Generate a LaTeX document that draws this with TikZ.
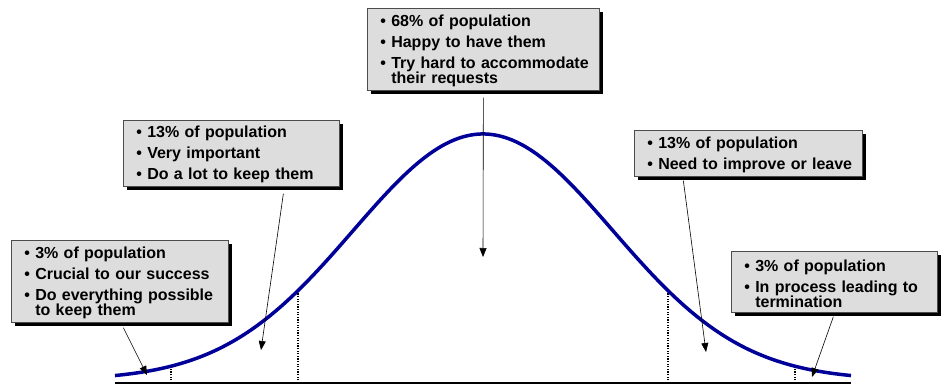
\documentclass[tikz,border=0pt]{standalone}
\usepackage{fontspec}
\setmainfont{Liberation Sans}
\usepackage{tikz}
\usetikzlibrary{arrows.meta, shadows}
\definecolor{bell}{RGB}{0,0,153}
\definecolor{panel}{RGB}{221,221,221}
\tikzset{
  note/.style={draw=black!70, line width=0.7pt, fill=panel, anchor=north west,
    inner sep=0pt, align=left, font=\bfseries\fontsize{16}{15}\selectfont,
    execute at end node={\kern-3pt},
    drop shadow={shadow xshift=4pt, shadow yshift=-4pt, fill=black, opacity=1}},
  pointer/.style={line width=0.6pt, -{Triangle[length=9pt, width=7pt]}},
  divider/.style={line width=1.3pt, dash pattern=on 1.3pt off 1.3pt},
  bellline/.style={line width=3.5pt, color=bell}
}
\newcommand{\itm}{\setlength{\parskip}{6pt}\leavevmode
  \setbox0\hbox{\hspace*{13pt}\textbullet\ }\hangindent=\wd0 \box0 }

\begin{document}
\begin{tikzpicture}[x=1pt, y=-1pt,
    declare function={bell(\t)=380-246*exp(-0.5*(\t/130)^2);}]
  \useasboundingbox (0,0) rectangle (941,385);
  % axis and bell curve
  \draw[line width=2.8pt] (115,383) -- (851,383);
  \foreach \p in {171,298,668,795}
    \draw[divider] (\p,383) -- (\p,{bell(\p-483)});
  \draw[bellline] plot[domain=-368:368, samples=120, smooth] ({483+\x},{bell(\x)});

  % notes
  \node[note, text width=232pt, minimum height=82pt] (n68) at (367,8)
    {\itm 68\% of population\par\itm Happy to have them\par
     \itm Try hard to accommodate\newline their requests\par};
  \node[note, text width=216pt, minimum height=66pt] (n13l) at (123,120)
    {\itm 13\% of population\par\itm Very important\par\itm Do a lot to keep them\par};
  \node[note, text width=217pt, minimum height=82pt] (n3l) at (11,240)
    {\itm 3\% of population\par\itm Crucial to our success\par
     \itm Do everything possible\newline to keep them\par};
  \node[note, text width=228pt, minimum height=46pt] (n13r) at (634,130)
    {\itm 13\% of population\par\itm Need to improve or leave\par};
  \node[note, text width=206pt, minimum height=61pt] (n3r) at (731,251)
    {\itm 3\% of population\par\itm In process leading to\newline termination\par};

  % pointers
  \coordinate (t68) at (483,257);
  \coordinate (t13l) at (261,350);
  \coordinate (t3l) at (147,375);
  \coordinate (t13r) at (706,352);
  \coordinate (t3r) at (812,377);
  \draw[pointer] ([yshift=-7pt]n68.south) -- (t68);
  \draw[pointer] ([xshift=52pt, yshift=-7pt]n13l.south) -- (t13l);
  \draw[pointer] ([xshift=3.5pt, yshift=-5pt]n3l.south) -- (t3l);
  \draw[pointer] ([xshift=-65pt, yshift=-4pt]n13r.south) -- (t13r);
  \draw[pointer] ([xshift=-1pt, yshift=-4pt]n3r.south) -- (t3r);
\end{tikzpicture}
\end{document}
